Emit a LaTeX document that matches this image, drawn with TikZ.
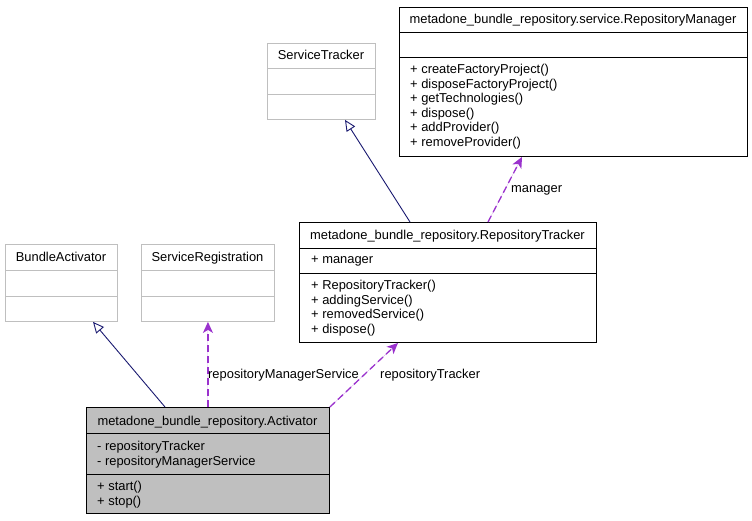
\documentclass[tikz,border=0pt]{standalone}
\usepackage{fontspec}
\setmainfont{Liberation Sans}
\usetikzlibrary{arrows.meta}
\definecolor{navyLine}{HTML}{191970}
\definecolor{usageLine}{HTML}{9A32CD}
\definecolor{greySeventyFive}{HTML}{BFBFBF}

\begin{document}
\begin{tikzpicture}[x=1pt,y=-1pt,%%
  classStyle/.style={draw=black,line width=0.9pt,fill=white,inner sep=0pt,anchor=north west},%%
  externStyle/.style={classStyle,draw=greySeventyFive},%%
  activeStyle/.style={classStyle,fill=greySeventyFive},%%
  sepStyle/.style={-,line width=0.9pt},%%
  textStyle/.style={inner sep=0pt,font=\fontsize{12.9}{14.5}\selectfont,anchor=base west},%%
  titleStyle/.style={inner sep=0pt,font=\fontsize{12.9}{14.5}\selectfont,anchor=base},%%
  inheritStyle/.style={draw=navyLine,line width=0.9pt,-{Triangle[open,length=11pt,width=10pt]}},%%
  usageStyle/.style={draw=usageLine,fill=usageLine,line width=1.3pt,dash pattern=on 7pt off 4pt,%%
    -{Stealth[length=11pt,width=10pt,inset=3pt]}},%%
  labelStyle/.style={textStyle}%%
]
%%
\pgfmathsetmacro{\lineSkip}{14.5}
\pgfmathsetmacro{\down}{4.6}
%%
\useasboundingbox (0,0) rectangle (752,520);
%%
%% The service interface.
\node[classStyle,minimum width=348pt,minimum height=149pt] (manager) at (399,7) {};
\draw[sepStyle] (399,32) -- (747,32);
\draw[sepStyle] (399,57) -- (747,57);
\node[titleStyle] (managerTitle) at (573,19+\down) {metadone\_bundle\_repository.service.RepositoryManager};
\foreach \op [count=\i] in {+ createFactoryProject(),+ disposeFactoryProject(),+ getTechnologies(),%%
    + dispose(),+ addProvider(),+ removeProvider()}
  \node[textStyle] (managerOp\i) at (410,{69+\down+\lineSkip*(\i-1)}) {\op};
%%
%% The external classes.
\node[externStyle,minimum width=108pt,minimum height=76pt] (serviceTracker) at (267,43) {};
\draw[sepStyle,greySeventyFive] (267,68) -- (375,68);
\draw[sepStyle,greySeventyFive] (267,94) -- (375,94);
\node[titleStyle] (serviceTrackerTitle) at (321,55+\down) {ServiceTracker};
%%
\node[externStyle,minimum width=112pt,minimum height=77pt] (bundleActivator) at (5,244) {};
\draw[sepStyle,greySeventyFive] (5,270) -- (117,270);
\draw[sepStyle,greySeventyFive] (5,296) -- (117,296);
\node[titleStyle] (bundleActivatorTitle) at (61,257+\down) {BundleActivator};
%%
\node[externStyle,minimum width=133pt,minimum height=77pt] (serviceRegistration) at (141,244) {};
\draw[sepStyle,greySeventyFive] (141,270) -- (274,270);
\draw[sepStyle,greySeventyFive] (141,296) -- (274,296);
\node[titleStyle] (serviceRegistrationTitle) at (207.5,257+\down) {ServiceRegistration};
%%
%% The tracker.
\node[classStyle,minimum width=297pt,minimum height=120pt] (tracker) at (299,222) {};
\draw[sepStyle] (299,248) -- (596,248);
\draw[sepStyle] (299,273) -- (596,273);
\node[titleStyle] (trackerTitle) at (447.5,235+\down) {metadone\_bundle\_repository.RepositoryTracker};
\node[textStyle] (trackerAttr) at (311,259+\down) {+ manager};
\foreach \op [count=\i] in {+ RepositoryTracker(),+ addingService(),+ removedService(),+ dispose()}
  \node[textStyle] (trackerOp\i) at (311,{285+\down+\lineSkip*(\i-1)}) {\op};
%%
%% The activator.
\node[activeStyle,minimum width=243pt,minimum height=106pt] (activator) at (86,407) {};
\draw[sepStyle] (86,433) -- (329,433);
\draw[sepStyle] (86,474) -- (329,474);
\node[titleStyle] (activatorTitle) at (207.5,421+\down) {metadone\_bundle\_repository.Activator};
\foreach \at [count=\i] in {- repositoryTracker,- repositoryManagerService}
  \node[textStyle] (activatorAttr\i) at (97,{446+\down+\lineSkip*(\i-1)}) {\at};
\foreach \op [count=\i] in {+ start(),+ stop()}
  \node[textStyle] (activatorOp\i) at (97,{486+\down+\lineSkip*(\i-1)}) {\op};
%%
%% Inheritance.
\draw[inheritStyle] ([xshift=79pt]activator.north west) -- ([xshift=88pt]bundleActivator.south west);
\draw[inheritStyle] ([xshift=111pt]tracker.north west) -- ([xshift=78pt]serviceTracker.south west);
%%
%% Usage.
\draw[usageStyle] (activator.north) -- (serviceRegistration.south);
\draw[usageStyle] (activator.north east) -- ([xshift=99pt]tracker.south west);
\draw[usageStyle] ([xshift=189pt]tracker.north west) -- ([xshift=123pt]manager.south west);
\node[labelStyle] (serviceLabel) at (208,374+\down) {repositoryManagerService};
\node[labelStyle] (trackerLabel) at (380,374+\down) {repositoryTracker};
\node[labelStyle] (managerLabel) at (511,188+\down) {manager};
\end{tikzpicture}
\end{document}
